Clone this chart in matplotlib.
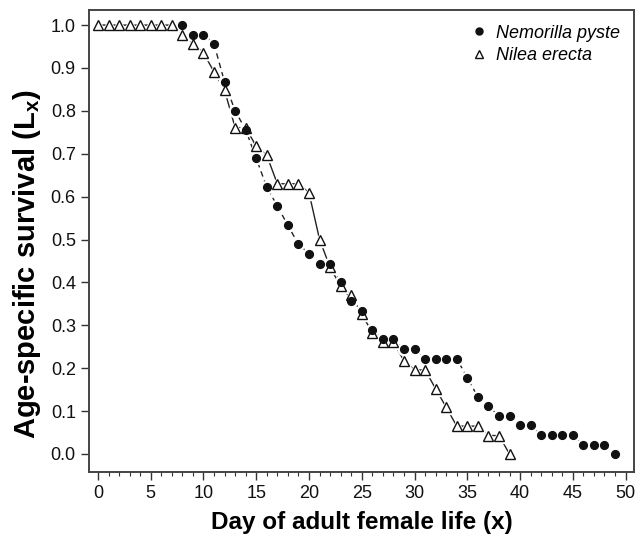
import matplotlib
matplotlib.use('Agg')
import matplotlib.pyplot as plt
from matplotlib.ticker import MultipleLocator, FormatStrFormatter
import numpy as np

plt.rcParams['font.family'] = ['Liberation Sans', 'DejaVu Sans']
plt.rcParams['mathtext.fontset'] = 'custom'
plt.rcParams['mathtext.bf'] = 'Liberation Sans:bold'
plt.rcParams['mathtext.rm'] = 'Liberation Sans'


## Age-specific survival
days_nemorilla = np.arange(8, 50)
lx_nemorilla = [1.000, 0.978, 0.978, 0.956, 0.867, 0.800, 0.756, 0.689, 0.622, 0.578,
                0.533, 0.489, 0.467, 0.444, 0.444, 0.400, 0.356, 0.333, 0.289, 0.267,
                0.267, 0.244, 0.244, 0.222, 0.222, 0.222, 0.222, 0.178, 0.133, 0.111,
                0.089, 0.089, 0.067, 0.067, 0.044, 0.044, 0.044, 0.044, 0.022, 0.022,
                0.022, 0.000]

days_nilea = np.arange(0, 40)
lx_nilea = [1.000, 1.000, 1.000, 1.000, 1.000, 1.000, 1.000, 1.000, 0.978, 0.957,
            0.935, 0.891, 0.848, 0.761, 0.761, 0.717, 0.696, 0.630, 0.630, 0.630,
            0.609, 0.500, 0.435, 0.391, 0.370, 0.326, 0.283, 0.261, 0.261, 0.217,
            0.196, 0.196, 0.152, 0.109, 0.065, 0.065, 0.065, 0.043, 0.043, 0.000]

names = ['Nemorilla pyste', 'Nilea erecta']


## Plotting
fig = plt.figure(figsize=(6.42, 5.39), dpi=100)
ax = fig.add_axes([0.1386, 0.1243, 0.849, 0.857])

# connecting lines (broken around the points, like R type="b")
ax.plot(days_nemorilla, lx_nemorilla, c='#222222', lw=1.0, ls=(0, (4, 3)), zorder=1)
ax.plot(days_nilea, lx_nilea, c='#222222', lw=1.0, ls='-', zorder=1)
ax.plot(days_nemorilla, lx_nemorilla, ls='none', marker='o', ms=9, mfc='white', mec='white', zorder=2)
ax.plot(days_nilea, lx_nilea, ls='none', marker='^', ms=10, mfc='white', mec='white', zorder=2)

# points (open triangles drawn over filled circles)
ax.plot(days_nemorilla, lx_nemorilla, ls='none', marker='o', ms=5.6, mfc='#111111', mec='#111111',
        zorder=3, label=names[0])
ax.plot(days_nilea, lx_nilea, ls='none', marker='^', ms=6.8, mfc='none', mec='#111111', mew=1.0,
        zorder=4, label=names[1])

ax.set_xlim(-0.85, 50.8)
ax.set_ylim(-0.042, 1.035)
ax.xaxis.set_major_locator(MultipleLocator(5))
ax.xaxis.set_minor_locator(MultipleLocator(1))
ax.yaxis.set_major_locator(MultipleLocator(0.1))
ax.yaxis.set_major_formatter(FormatStrFormatter('%.1f'))

ax.tick_params(axis='both', which='major', direction='out', length=6, width=1.0,
               labelsize=13, colors='#333333', labelcolor='#111111')
ax.tick_params(axis='x', which='minor', direction='out', length=3, width=0.8, colors='#333333')
for sp in ax.spines.values():
    sp.set_linewidth(1.4)
    sp.set_color('#444444')

ax.set_xlabel('Day of adult female life (x)', fontsize=17.5, fontweight='bold', labelpad=6)
ax.set_ylabel(r'Age-specific survival (L$_{\mathbf{x}}$)', fontsize=21, fontweight='bold')
ax.yaxis.set_label_coords(-0.084, 0.45)

ax.legend(loc='upper right', bbox_to_anchor=(1.0, 1.0), frameon=False,
          prop={'style': 'italic', 'size': 13}, handlelength=0.8, handletextpad=0.5,
          labelspacing=0.3, borderaxespad=0.4, markerscale=0.9)

fig.savefig('out.png', dpi=100)
